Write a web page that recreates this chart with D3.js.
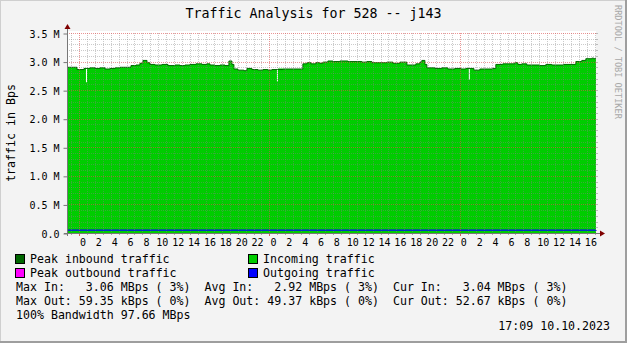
<!DOCTYPE html>
<html>
<head>
<meta charset="utf-8">
<script src="https://cdn.jsdelivr.net/npm/d3@7"></script>
<style>
  body { margin: 0; background: #f3f3f3; }
  svg { display: block; }
  text { font-family: "DejaVu Sans Mono", monospace; white-space: pre; }
</style>
</head>
<body>
<svg id="graph"></svg>
<script>
const startTime = new Date(2023, 9, 7, 22, 30);
const endTime = new Date(2023, 9, 10, 17, 9);

// hours after startTime, inbound traffic in M
const inHours = [0, 1.26, 2.14, 2.52, 2.90, 3.53, 4.16, 4.79, 5.42, 6.05, 6.68, 8.06, 8.69, 9.19, 9.57,
  10.08, 10.45, 11.08, 11.96, 12.72, 13.60, 14.23, 14.86, 15.49, 16.25, 17.00, 17.63, 18.01, 18.64,
  19.27, 19.90, 20.40, 20.78, 21.03, 21.54, 22.29, 22.67, 23.30, 24.06, 24.69, 25.31, 25.82, 27.20,
  29.72, 30.23, 30.73, 31.36, 31.86, 32.24, 32.87, 33.50, 34.38, 35.39, 37.15, 37.78, 38.41, 40.30,
  41.06, 41.94, 42.82, 43.95, 44.46, 44.71, 45.09, 45.34, 46.35, 47.23, 47.98, 48.87, 49.62, 50.25,
  51.26, 52.02, 53.65, 54.03, 54.91, 56.42, 56.80, 57.30, 57.93, 59.57, 60.33, 61.08, 62.59, 64.11,
  64.86, 65.37, 66.12, 66.37];
const inValues = [2.90, 2.86, 2.88, 2.88, 2.89, 2.88, 2.89, 2.87, 2.88, 2.89, 2.90, 2.93, 2.94, 2.97, 3.02,
  2.98, 2.95, 2.94, 2.95, 2.93, 2.94, 2.93, 2.94, 2.95, 2.96, 2.95, 2.96, 2.94, 2.93,
  2.94, 2.93, 3.01, 2.95, 2.87, 2.85, 2.84, 2.88, 2.86, 2.85, 2.86, 2.85, 2.86, 2.87,
  2.96, 2.98, 2.96, 2.98, 2.97, 2.99, 3.01, 3.00, 3.01, 3.00, 2.99, 3.00, 2.98, 2.99,
  2.97, 2.99, 2.94, 2.96, 2.99, 3.02, 2.95, 2.89, 2.88, 2.89, 2.87, 2.88, 2.87, 2.88,
  2.85, 2.87, 2.88, 2.95, 2.96, 2.98, 2.95, 2.96, 2.94, 2.93, 2.95, 2.94, 2.95, 3.00,
  3.02, 3.05, 3.06, 3.05];

// single-sample drops in the average (peak line does not follow them)
const dipHours = [2.39, 26.45, 50.63];
const dipValues = [2.64, 2.65, 2.68];
const sampleHours = 0.126;

const outHours = [0, 20, 45, 66.65];
const outValues = [0.049, 0.050, 0.049, 0.052];

const yTicks = [0, 0.5, 1.0, 1.5, 2.0, 2.5, 3.0, 3.5];
const yTickLabels = ["0.0", "0.5 M", "1.0 M", "1.5 M", "2.0 M", "2.5 M", "3.0 M", "3.5 M"];

const legendNames = ["Peak inbound traffic", "Incoming traffic", "Peak outbound traffic", "Outgoing traffic"];
const legendColors = ["#006600", "#00cc00", "#ff00ff", "#0000ff"];

const statLines = [
  "Max In:   3.06 MBps ( 3%)  Avg In:   2.92 MBps ( 3%)  Cur In:   3.04 MBps ( 3%)",
  "Max Out: 59.35 kBps ( 0%)  Avg Out: 49.37 kBps ( 0%)  Cur Out: 52.67 kBps ( 0%)",
  "100% Bandwidth 97.66 MBps"
];

const width = 627, height = 343;
const margin = { left: 67, right: 31, top: 33, bottom: 110 };

const svg = d3.select("#graph")
  .attr("width", width)
  .attr("height", height);

const toDate = h => new Date(startTime.getTime() + h * 3600e3);

const xScale = d3.scaleTime()
  .domain([startTime, endTime])
  .range([margin.left, width - margin.right]);

const yScale = d3.scaleLinear()
  .domain([0, 3.5])
  .range([height - margin.bottom, margin.top]);

const x0 = margin.left, x1 = width - margin.right;
const yBot = height - margin.bottom, yTop = margin.top;

// background + 3d frame
svg.append("rect").attr("width", width).attr("height", height).attr("fill", "#f3f3f3");
svg.append("path").attr("d", `M0,${height} V0 H${width}`).attr("fill", "none")
  .attr("stroke", "#cfcfcf").attr("stroke-width", 2);
svg.append("path").attr("d", `M0,${height - 1} H${width - 1} V0`).attr("fill", "none")
  .attr("stroke", "#9e9e9e").attr("stroke-width", 2);

// canvas
svg.append("rect")
  .attr("x", x0).attr("y", yTop - 2)
  .attr("width", x1 - x0).attr("height", yBot - yTop + 2)
  .attr("fill", "#ffffff");

// inbound series with the dips merged in
const peakData = inHours.map((h, i) => ({ t: toDate(h), v: inValues[i] }));
peakData.push({ t: endTime, v: inValues[inValues.length - 1] });

const areaData = inHours.map((h, i) => ({ h, v: inValues[i] }));
dipHours.forEach((h, i) => {
  const prev = areaData.filter(d => d.h <= h).pop();
  areaData.push({ h, v: dipValues[i] });
  areaData.push({ h: h + sampleHours, v: prev.v });
});
areaData.sort((a, b) => a.h - b.h);
areaData.forEach(d => d.t = toDate(d.h));
areaData.push({ t: endTime, v: inValues[inValues.length - 1] });

svg.append("path")
  .datum(areaData)
  .attr("fill", "#00cc00")
  .attr("d", d3.area()
    .curve(d3.curveStepAfter)
    .x(d => xScale(d.t))
    .y0(yScale(0))
    .y1(d => yScale(d.v)));

svg.append("path")
  .datum(peakData)
  .attr("fill", "none")
  .attr("stroke", "#006600")
  .attr("stroke-width", 1)
  .attr("d", d3.line()
    .curve(d3.curveStepAfter)
    .x(d => xScale(d.t))
    .y(d => yScale(d.v)));

// outgoing
const outData = outHours.map((h, i) => ({ t: toDate(h), v: outValues[i] }));
svg.append("path")
  .datum(outData)
  .attr("fill", "none")
  .attr("stroke", "#0000ff")
  .attr("stroke-width", 1.3)
  .attr("d", d3.line()
    .curve(d3.curveStepAfter)
    .x(d => xScale(d.t))
    .y(d => yScale(d.v)));

// grid (drawn over the data, semi transparent like rrdtool)
const grid = svg.append("g").attr("fill", "none").attr("stroke-dasharray", "1,1");
const minorY = d3.range(1, 35).map(i => i / 10).filter(v => Math.abs(v * 2 - Math.round(v * 2)) > 1e-6);
grid.selectAll(".hminor").data(minorY).enter().append("line")
  .attr("x1", x0).attr("x2", x1)
  .attr("y1", d => Math.round(yScale(d)) + 0.5).attr("y2", d => Math.round(yScale(d)) + 0.5)
  .attr("stroke", "rgba(130,130,130,0.42)");
const hours = d3.timeHour.range(startTime, endTime).filter(d => d.getHours() !== 0);
grid.selectAll(".vminor").data(hours).enter().append("line")
  .attr("x1", d => Math.round(xScale(d)) + 0.5).attr("x2", d => Math.round(xScale(d)) + 0.5)
  .attr("y1", yTop).attr("y2", yBot)
  .attr("stroke", "rgba(130,130,130,0.42)");
grid.selectAll(".hmajor").data(yTicks.slice(1)).enter().append("line")
  .attr("x1", x0).attr("x2", x1)
  .attr("y1", d => Math.round(yScale(d)) + 0.5).attr("y2", d => Math.round(yScale(d)) + 0.5)
  .attr("stroke", "rgba(222,80,80,0.6)");
const days = d3.timeDay.range(startTime, endTime);
grid.selectAll(".vmajor").data(days).enter().append("line")
  .attr("x1", d => Math.round(xScale(d)) + 0.5).attr("x2", d => Math.round(xScale(d)) + 0.5)
  .attr("y1", yTop).attr("y2", yBot)
  .attr("stroke", "rgba(222,80,80,0.6)");

// axes
const yAxis = d3.axisLeft(yScale).tickValues(yTicks).tickSize(4)
  .tickFormat((d, i) => yTickLabels[i]);
const yAxisGroup = svg.append("g")
  .attr("transform", `translate(${x0 + 0.5},0.5)`)
  .call(yAxis);
yAxisGroup.select(".domain").remove();
yAxisGroup.selectAll("line").attr("stroke", "#777");
yAxisGroup.selectAll("text")
  .attr("x", -8).attr("dy", "0.36em")
  .style("font-size", "10px").attr("fill", "#000");

const xAxis = d3.axisBottom(xScale)
  .ticks(d3.timeHour.every(2))
  .tickFormat(d3.timeFormat("%-H"))
  .tickSize(0);
const xAxisGroup = svg.append("g")
  .attr("transform", `translate(3.5,${yBot})`)
  .call(xAxis);
xAxisGroup.select(".domain").remove();
xAxisGroup.selectAll("text").attr("y", 6).attr("dy", "0.71em")
  .style("font-size", "10px").attr("fill", "#000");

// small ticks below the x axis
svg.append("g").selectAll("line").data(hours).enter().append("line")
  .attr("x1", d => Math.round(xScale(d)) + 0.5).attr("x2", d => Math.round(xScale(d)) + 0.5)
  .attr("y1", yBot).attr("y2", yBot + 2).attr("stroke", "#aaa");
svg.append("g").selectAll("line").data(days).enter().append("line")
  .attr("x1", d => Math.round(xScale(d)) + 0.5).attr("x2", d => Math.round(xScale(d)) + 0.5)
  .attr("y1", yBot).attr("y2", yBot + 3).attr("stroke", "#d06060");
// small ticks on the right edge
svg.append("g").selectAll("line").data(minorY.concat(yTicks.slice(1))).enter().append("line")
  .attr("x1", x1).attr("x2", x1 + 2)
  .attr("y1", d => Math.round(yScale(d)) + 0.5).attr("y2", d => Math.round(yScale(d)) + 0.5)
  .attr("stroke", "#bbb");

// axis lines with arrows
svg.append("line").attr("x1", x0 + 0.5).attr("x2", x0 + 0.5).attr("y1", yBot + 3).attr("y2", yTop - 4)
  .attr("stroke", "#777");
svg.append("line").attr("x1", x0 - 3).attr("x2", x1 + 4).attr("y1", yBot + 0.5).attr("y2", yBot + 0.5)
  .attr("stroke", "#777");
svg.append("path").attr("d", `M${x0 - 2.5},${yTop - 4} L${x0 + 3.5},${yTop - 4} L${x0 + 0.5},${yTop - 9} Z`)
  .attr("fill", "#7f0000");
svg.append("path").attr("d", `M${x1 + 4},${yBot - 2.5} L${x1 + 4},${yBot + 3.5} L${x1 + 9},${yBot + 0.5} Z`)
  .attr("fill", "#7f0000");

// title, axis label, watermark
svg.append("text").attr("x", width / 2).attr("y", 18)
  .attr("text-anchor", "middle").style("font-size", "13.3px")
  .text("Traffic Analysis for 528 -- j143");
svg.append("text").attr("transform", "translate(15,133) rotate(-90)")
  .attr("text-anchor", "middle").style("font-size", "11.6px")
  .text("traffic in Bps");
svg.append("text").attr("transform", "translate(615,5) rotate(90)")
  .style("font-size", "8.6px").attr("fill", "#a8a8a8")
  .text("RRDTOOL / TOBI OETIKER");

// legend
const legend = svg.append("g");
const legendPos = [[15, 263], [248, 263], [15, 277], [248, 277]];
const legendItem = legend.selectAll(".legend-item").data(legendNames).enter()
  .append("g")
  .attr("transform", (d, i) => `translate(${legendPos[i][0]},${legendPos[i][1]})`);
legendItem.append("rect")
  .attr("x", 0.5).attr("y", -8.5).attr("width", 9).attr("height", 9)
  .attr("fill", (d, i) => legendColors[i]).attr("stroke", "#000");
legendItem.append("text").attr("x", 15)
  .style("font-size", "11.6px").text(d => d);

legend.selectAll(".stat").data(statLines).enter().append("text")
  .attr("x", 16).attr("y", (d, i) => 291 + i * 14)
  .style("font-size", "11.6px").text(d => d);

legend.append("text").attr("x", 610).attr("y", 330)
  .attr("text-anchor", "end").style("font-size", "11.6px")
  .text("17:09 10.10.2023");
</script>
</body>
</html>
